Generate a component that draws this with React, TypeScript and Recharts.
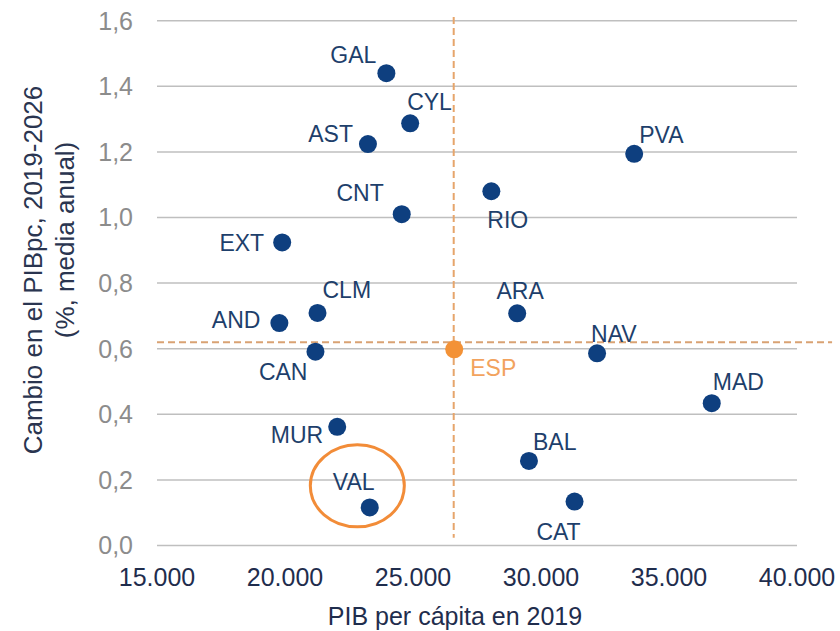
import React from 'react';
import {
    ScatterChart,
    Scatter,
    XAxis,
    YAxis,
    CartesianGrid,
    ReferenceLine,
    ReferenceDot,
    Label,
} from 'recharts';

// regiones y valores
const regions = ['GAL', 'CYL', 'AST', 'CNT', 'EXT', 'CLM', 'AND', 'CAN', 'MUR', 'VAL', 'PVA', 'RIO', 'ARA', 'NAV', 'MAD', 'BAL', 'CAT'];
const gdpPc2019 = [23960, 24890, 23240, 24560, 19890, 21270, 19780, 21190, 22040, 23310, 33640, 28060, 29070, 32190, 36670, 29530, 31310];
const growthPc = [1.44, 1.287, 1.224, 1.01, 0.924, 0.709, 0.678, 0.591, 0.362, 0.116, 1.194, 1.08, 0.708, 0.586, 0.434, 0.258, 0.134];

const espName = ['ESP'];
const espGdp = [26610];
const espGrowth = [0.598];

const xTicks = [15000, 20000, 25000, 30000, 35000, 40000];
const yTicks = [0, 0.2, 0.4, 0.6, 0.8, 1.0, 1.2, 1.4, 1.6];

// lineas de referencia (media de España) y marca de VAL
const hLineY = 0.62;
const hLineX = [15000, 41370];
const vLineX = 26590;
const vLineY = [1.611, 0.024];
const highlightX = 22825;
const highlightY = 0.182;

const regionData = regions.map((name, i) => ({ name, x: gdpPc2019[i], y: growthPc[i] }));
const espData = espName.map((name, i) => ({ name, x: espGdp[i], y: espGrowth[i] }));

const NAVY = '#0E3F7F';
const NAVY_TEXT = '#1E3F6B';
const ORANGE = '#F39237';

// posicion de cada etiqueta respecto a su punto
const labelPos: Record<string, { a: 'start' | 'middle' | 'end'; dx: number; dy: number }> = {
    GAL: { a: 'end', dx: -10, dy: -10 },
    CYL: { a: 'start', dx: -3, dy: -13 },
    AST: { a: 'end', dx: -15, dy: -2 },
    CNT: { a: 'end', dx: -18, dy: -13 },
    EXT: { a: 'end', dx: -18, dy: 9 },
    CLM: { a: 'start', dx: 5, dy: -15 },
    AND: { a: 'end', dx: -19, dy: 5 },
    CAN: { a: 'end', dx: -8, dy: 28 },
    MUR: { a: 'end', dx: -14, dy: 16 },
    VAL: { a: 'middle', dx: -16, dy: -17 },
    PVA: { a: 'start', dx: 5, dy: -11 },
    RIO: { a: 'start', dx: -4, dy: 37 },
    ARA: { a: 'middle', dx: 3, dy: -14 },
    ESP: { a: 'start', dx: 16, dy: 27 },
    NAV: { a: 'start', dx: -6, dy: -11 },
    MAD: { a: 'start', dx: 1, dy: -13 },
    BAL: { a: 'start', dx: 4, dy: -11 },
    CAT: { a: 'middle', dx: -16, dy: 38 },
};

const makeDot = (fill: string, textColor: string) => (props: any) => {
    const { cx, cy, payload } = props;
    const p = labelPos[payload.name] || { a: 'start', dx: 10, dy: -10 };
    return (
        <g>
            <circle cx={cx} cy={cy} r={9} fill={fill} />
            <text
                x={cx + p.dx}
                y={cy + p.dy}
                textAnchor={p.a}
                fill={textColor}
                fontSize={23}
                fontFamily="Liberation Sans, Arial, sans-serif"
            >
                {payload.name}
            </text>
        </g>
    );
};

const fmtX = (v: number) => {
    const s = String(Math.round(v));
    return s.replace(/\B(?=(\d{3})+(?!\d))/g, '.');
};
const fmtY = (v: number) => v.toFixed(1).replace('.', ',');

const YTitle = () => (
    <g fontFamily="Liberation Sans, Arial, sans-serif" fill="#2A3550" fontSize={26}>
        <text x={33} y={270} transform="rotate(-90 33 270)" textAnchor="middle" dominantBaseline="central">
            Cambio en el PIBpc, 2019-2026
        </text>
        <text x={65} y={240} transform="rotate(-90 65 240)" textAnchor="middle" dominantBaseline="central">
            (%, media anual)
        </text>
    </g>
);

const App: React.FC = () => {
    return (
        <div style={{ position: 'absolute', left: 0, top: 0, width: 840, height: 631, background: '#fff' }}>
            <ScatterChart
                width={840}
                height={631}
                margin={{ top: 20.7, right: 43, bottom: 45.5, left: 77 }}
            >
                <CartesianGrid vertical={false} stroke="#BFBFBF" strokeWidth={1.5} />
                <XAxis
                    type="number"
                    dataKey="x"
                    domain={[15000, 40000]}
                    ticks={xTicks}
                    tickFormatter={fmtX}
                    axisLine={false}
                    tickLine={false}
                    tickSize={0}
                    tickMargin={23}
                    height={40}
                    tick={{ fontSize: 25, fill: '#1F2D4D', fontFamily: 'Liberation Sans, Arial, sans-serif' }}
                    allowDataOverflow
                >
                    <Label
                        content={() => (
                            <text
                                x={455}
                                y={625}
                                textAnchor="middle"
                                fontSize={25}
                                fill="#1F2D4D"
                                fontFamily="Liberation Sans, Arial, sans-serif"
                            >
                                PIB per cápita en 2019
                            </text>
                        )}
                    />
                </XAxis>
                <YAxis
                    type="number"
                    dataKey="y"
                    domain={[0, 1.6]}
                    ticks={yTicks}
                    tickFormatter={fmtY}
                    axisLine={false}
                    tickLine={false}
                    tickSize={0}
                    tickMargin={24}
                    width={80}
                    tick={{ fontSize: 25, fill: '#8C8C8C', fontFamily: 'Liberation Sans, Arial, sans-serif' }}
                    allowDataOverflow
                >
                    <Label content={() => <YTitle />} />
                </YAxis>
                <ReferenceLine
                    segment={[{ x: hLineX[0], y: hLineY }, { x: hLineX[1], y: hLineY }]}
                    stroke="#D9A273"
                    strokeWidth={2}
                    strokeDasharray="7 4"
                    ifOverflow="visible"
                />
                <ReferenceLine
                    segment={[{ x: vLineX, y: vLineY[0] }, { x: vLineX, y: vLineY[1] }]}
                    stroke="#E6A56B"
                    strokeWidth={2}
                    strokeDasharray="7 4"
                    ifOverflow="visible"
                />
                <Scatter data={regionData} shape={makeDot(NAVY, NAVY_TEXT)} isAnimationActive={false} />
                <Scatter data={espData} shape={makeDot(ORANGE, '#F2A35E')} isAnimationActive={false} />
                <ReferenceDot
                    x={highlightX}
                    y={highlightY}
                    ifOverflow="visible"
                    shape={(props: any) => (
                        <ellipse cx={props.cx} cy={props.cy} rx={47} ry={41} fill="none" stroke="#F28C38" strokeWidth={3} />
                    )}
                />
            </ScatterChart>
        </div>
    );
};

export default App;
